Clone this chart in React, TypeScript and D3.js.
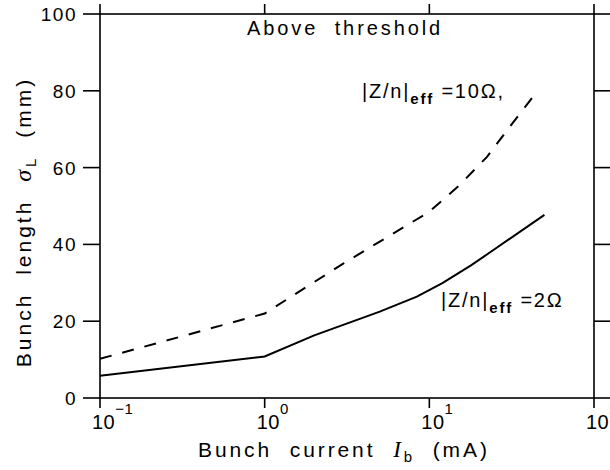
import React from "react";
import * as d3 from "d3";

const yTicks = [0, 20, 40, 60, 80, 100];
const xTickExps = [-1, 0, 1, 2];
const solidI = [0.1, 1, 2, 5, 8.4, 12, 18, 25, 50];
const solidSigma = [5.8, 10.8, 16.3, 22.5, 26.4, 29.9, 34.6, 38.8, 47.7];
const dashI = [0.1, 1, 3, 10, 15.3, 22.4, 30.6, 46];
const dashSigma = [10.2, 22.0, 35.0, 48.5, 55.5, 62.8, 70.5, 80.3];

const W = 610, H = 470;
const L = 100, R = 594, T = 14, B = 398;

export default function App() {
  const x = d3.scaleLog().domain([0.1, 100]).range([L, R]);
  const y = d3.scaleLinear().domain([0, 100]).range([B, T]);
  const line = d3.line<[number, number]>().x(d => x(d[0])).y(d => y(d[1]));
  const solid = line(solidI.map((v, i) => [v, solidSigma[i]] as [number, number])) || "";
  const dashed = line(dashI.map((v, i) => [v, dashSigma[i]] as [number, number])) || "";
  const font = "'Liberation Sans', Arial, Helvetica, sans-serif";
  return (
    <svg width={W} height={H} style={{ position: "absolute", left: 0, top: 0, background: "#fff" }}>
      <rect x={0} y={0} width={W} height={H} fill="#fff" />
      <g stroke="#000" strokeWidth={1.6} fill="none">
        <rect x={L} y={T} width={R - L} height={B - T} />
        {yTicks.map(t => (
          <g key={"y" + t}>
            <line x1={L - 17} x2={L} y1={y(t)} y2={y(t)} />
            <line x1={R} x2={R + 17} y1={y(t)} y2={y(t)} />
          </g>
        ))}
        {xTickExps.map(e => (
          <g key={"x" + e}>
            <line x1={x(Math.pow(10, e))} x2={x(Math.pow(10, e))} y1={T} y2={T - 10} />
            <line x1={x(Math.pow(10, e))} x2={x(Math.pow(10, e))} y1={B} y2={B + 10} />
          </g>
        ))}
      </g>
      <path d={solid} fill="none" stroke="#000" strokeWidth={2} />
      <path d={dashed} fill="none" stroke="#000" strokeWidth={2} strokeDasharray="12 11" />
      <g fontFamily={font} fill="#000">
        {yTicks.map(t => (
          <text key={"yl" + t} x={77} y={y(t) + 7} fontSize={19} textAnchor="end" letterSpacing={1.5}>{t}</text>
        ))}
        {xTickExps.map(e => (
          <text key={"xl" + e} x={x(Math.pow(10, e)) - 8} y={429} fontSize={20} letterSpacing={0.5}>
            10<tspan dy={-15} fontSize={15}>{e < 0 ? "\u2212" + Math.abs(e) : e}</tspan>
          </text>
        ))}
        <text x={247} y={35} fontSize={20} letterSpacing={2.9} wordSpacing={8}>Above threshold</text>
        <text x={198} y={457} fontSize={21} letterSpacing={2.9} wordSpacing={9}>
          Bunch current <tspan fontFamily="'Liberation Serif', serif" fontStyle="italic" fontSize={23}>I</tspan><tspan fontSize={15} dy={5}>b</tspan><tspan dy={-5}> (mA)</tspan>
        </text>
        <text transform="translate(31,222) rotate(-90)" textAnchor="middle" fontSize={21} letterSpacing={3} wordSpacing={9}>
          Bunch length <tspan fontFamily="'Liberation Serif', serif" fontStyle="italic" fontSize={24}>σ</tspan><tspan fontSize={15} dy={5}>L</tspan><tspan dy={-5}> (mm)</tspan>
        </text>
        <text x={362} y={98} fontSize={20} letterSpacing={1.8}>
          |Z/n|<tspan fontSize={15} dy={6} fontWeight="bold">eff</tspan><tspan dy={-6}> =10Ω,</tspan>
        </text>
        <text x={441} y={307} fontSize={20} letterSpacing={1.8}>
          |Z/n|<tspan fontSize={15} dy={6} fontWeight="bold">eff</tspan><tspan dy={-6}> =2Ω</tspan>
        </text>
      </g>
    </svg>
  );
}
